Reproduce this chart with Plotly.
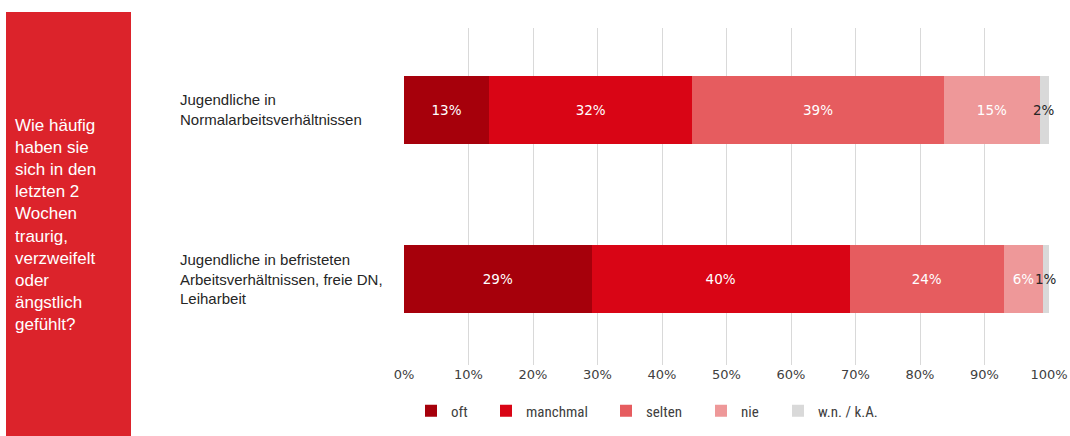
import plotly.graph_objects as go

categories = ["Jugendliche in<br>Normalarbeitsverhältnissen",
              "Jugendliche in befristeten<br>Arbeitsverhältnissen, freie DN,<br>Leiharbeit"]
series_names = ["oft", "manchmal", "selten", "nie", "w.n. / k.A."]
values = {
    "oft":        [13.2, 29.1],
    "manchmal":   [31.5, 40.0],
    "selten":     [39.0, 23.9],
    "nie":        [14.9, 6.1],
    "w.n. / k.A.": [1.4, 0.9],
}
labels = {
    "oft":        ["13%", "29%"],
    "manchmal":   ["32%", "40%"],
    "selten":     ["39%", "24%"],
    "nie":        ["15%", "6%"],
    "w.n. / k.A.": ["2%", "1%"],
}
colors = ["#A6000B", "#D90515", "#E65C5F", "#EE9899", "#D9D9D9"]
text_colors = ["#FFFFFF", "#FFFFFF", "#FFFFFF", "#FFFFFF", "#262626"]
tick_vals = [0, 10, 20, 30, 40, 50, 60, 70, 80, 90, 100]
tick_text = ["0%", "10%", "20%", "30%", "40%", "50%", "60%", "70%", "80%", "90%", "100%"]
question = "Wie häufig<br>haben sie<br>sich in den<br>letzten 2<br>Wochen<br>traurig,<br>verzweifelt<br>oder<br>ängstlich<br>gefühlt?"

W, H = 1070, 436
L, R, T, B = 404, 1049, 28, 365  # plot area in pixels

def px_x(p):
    return (p - L) / (R - L)

def px_y(p):
    return (B - p) / (B - T)

legend_text_px = [447, 522, 642, 737, 814]
bar_font = dict(size=13.5, family="DejaVu Sans, Liberation Sans")

fig = go.Figure()
for i, name in enumerate(series_names):
    lg = "legend" if i == 0 else f"legend{i+1}"
    inside = name != "w.n. / k.A."
    fig.add_trace(go.Bar(
        y=list(range(len(categories))), x=values[name], name=name, orientation="h",
        marker=dict(color=colors[i], line=dict(width=0)),
        text=labels[name] if inside else None,
        textposition="inside", insidetextanchor="middle",
        constraintext="none", textangle=0,
        textfont=dict(color=text_colors[i], **bar_font),
        width=0.40, legend=lg, hoverinfo="skip", showlegend=True,
    ))

# labels for the thin last segment, centred on the segment
last = series_names[-1]
for j in range(len(categories)):
    cum = sum(values[n][j] for n in series_names)
    fig.add_annotation(x=cum - values[last][j] / 2, y=j, xref="x", yref="y",
                       text=labels[last][j], showarrow=False, xanchor="center",
                       font=dict(color=text_colors[-1], **bar_font))

layout = dict(
    width=W, height=H,
    margin=dict(l=L, r=W - R, t=T, b=H - B, autoexpand=False),
    barmode="stack",
    showlegend=True,
    plot_bgcolor="white", paper_bgcolor="white",
    xaxis=dict(range=[0, 100], tickvals=tick_vals, ticktext=tick_text,
               showgrid=True, gridcolor="#D9D9D9", gridwidth=1, zeroline=False,
               showline=False, ticks="", fixedrange=True,
               tickfont=dict(size=13, color="#404040", family="DejaVu Sans, Liberation Sans")),
    yaxis=dict(range=[1.509, -0.485], showticklabels=False, showgrid=False,
               zeroline=False, showline=False, ticks="", fixedrange=True),
    font=dict(family="Liberation Sans, Arial"),
)
for i in range(len(series_names)):
    key = "legend" if i == 0 else f"legend{i+1}"
    layout[key] = dict(x=px_x(legend_text_px[i] - 36), y=px_y(411), xanchor="left", yanchor="middle",
                       orientation="h", bgcolor="rgba(0,0,0,0)", visible=True,
                       font=dict(size=15, color="#404040", family="Liberation Sans Narrow, Roboto Condensed, Roboto"),
                       itemwidth=30, tracegroupgap=0)
fig.update_layout(**layout)

# left red box
fig.add_shape(type="rect", xref="paper", yref="paper",
              x0=px_x(6), x1=px_x(131), y0=px_y(12), y1=px_y(436),
              fillcolor="#DC232B", line=dict(width=0), layer="below")
fig.add_annotation(xref="paper", yref="paper", x=px_x(13), y=px_y(225),
                   xanchor="left", yanchor="middle", align="left", showarrow=False,
                   text=question, font=dict(size=17, color="white", family="Liberation Sans, Arial"))

# category labels (left aligned)
centers = [110, 279]
for c, cy in zip(categories, centers):
    fig.add_annotation(xref="paper", yref="paper", x=px_x(178), y=px_y(cy),
                       xanchor="left", yanchor="middle", align="left", showarrow=False,
                       text=c, font=dict(size=15, color="#262626", family="Liberation Sans, Arial"))

fig.write_html("out.html")
